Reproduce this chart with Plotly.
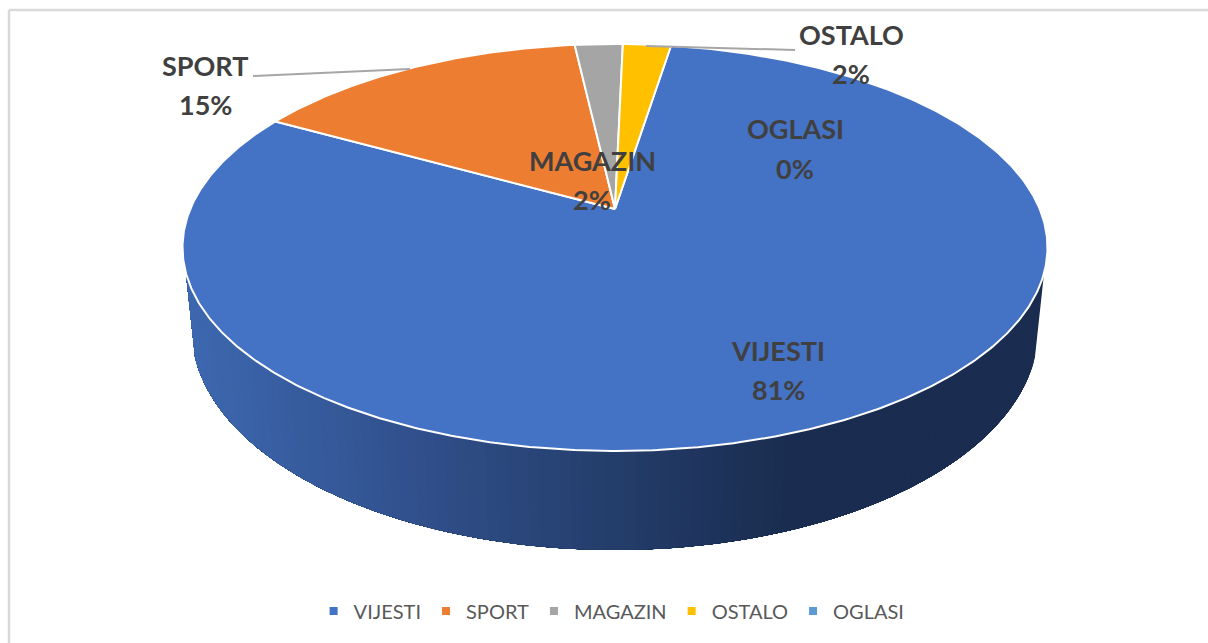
import numpy as np
import plotly.graph_objects as go

# ---- data ----
categories = ["VIJESTI", "SPORT", "MAGAZIN", "OSTALO", "OGLASI"]
shares = [80.6, 15.1, 2.15, 2.15, 0.0]
colors = ["#4472C4", "#ED7D31", "#A5A5A5", "#FFC000", "#5B9BD5"]
first_slice_angle = 9.0  # degrees clockwise from the back of the pie

# ---- perspective of the tilted disc (axis units are pixels) ----
CX, K = 615.0, 0.189
TOP = dict(ax=424.7, by=196.2, y0=209.0)
BOTTOM = dict(ax=415.6, by=212.0, y0=288.6)


def project(theta_deg, face):
    t = np.radians(theta_deg)
    u, v = np.sin(t), np.cos(t)
    d = 1 + K * v
    return CX + face["ax"] * u / d, face["y0"] - face["by"] * v / d


fig = go.Figure()

# side wall: painted from right to left, each strip covering the rest of the wall
shade_x = [190, 450, 600, 790]
shade_rgb = np.array([[61, 104, 176], [47, 77, 135], [37, 63, 110], [26, 45, 80]])
wall_from, wall_to = 90 + 17.9, 270 - 17.9
edges = np.linspace(wall_from, wall_to, 121)
for a0 in edges[:-1]:
    arc = np.linspace(a0, wall_to, max(3, int((wall_to - a0) * 2)))
    xt, yt = project(arc, TOP)
    xb, yb = project(arc, BOTTOM)
    mid = (xt[0] + xb[0]) / 2
    rgb = [int(round(np.interp(mid, shade_x, shade_rgb[:, i]))) for i in range(3)]
    col = f"rgb({rgb[0]},{rgb[1]},{rgb[2]})"
    fig.add_trace(go.Scatter(
        x=np.r_[xt, xb[::-1], xt[0]], y=np.r_[yt, yb[::-1], yt[0]],
        mode="lines", fill="toself", fillcolor=col, line=dict(width=0),
        hoverinfo="skip", showlegend=False))

# top face: one wedge per share, clockwise from the first slice angle
start = first_slice_angle
for name, share, col in zip(categories, shares, colors):
    sweep = share / sum(shares) * 360
    if sweep > 0:
        arc = np.linspace(start, start + sweep, max(3, int(sweep * 2)))
        xa, ya = project(arc, TOP)
        fig.add_trace(go.Scatter(
            x=np.r_[CX, xa, CX], y=np.r_[TOP["y0"], ya, TOP["y0"]],
            mode="lines", fill="toself", fillcolor=col,
            line=dict(color="white", width=2),
            hoverinfo="skip", showlegend=False))
    start += sweep

# legend entries
for name, col in zip(categories, colors):
    fig.add_trace(go.Scatter(
        x=[None], y=[None], mode="markers", name=name,
        marker=dict(symbol="square", size=8, color=col)))

# data labels: name above, share below
label_pos = {
    "VIJESTI": (778, 350, 389),
    "SPORT": (205, 65, 104),
    "MAGAZIN": (592, 160, 199),
    "OSTALO": (851, 34, 73),
    "OGLASI": (795, 128, 168),
}
annotations = []
for name, share in zip(categories, shares):
    x, y1, y2 = label_pos[name]
    for text, y in ((name, y1), (f"{round(share)}%", y2)):
        annotations.append(dict(
            x=x, y=y, xref="x", yref="y", text=f"<b>{text}</b>", showarrow=False,
            xanchor="center", yanchor="middle",
            font=dict(family="Lato", size=27, color="#404040")))

leader = dict(type="line", xref="x", yref="y", line=dict(color="#A6A6A6", width=2))
frame = dict(type="line", xref="x", yref="y", line=dict(color="#D9D9D9", width=2.5))
shapes = [
    dict(leader, x0=253, y0=76, x1=410, y1=69),
    dict(leader, x0=646, y0=46, x1=795, y1=50),
    dict(frame, x0=9, y0=10, x1=1208, y1=10),
    dict(frame, x0=9, y0=10, x1=9, y1=643),
]

fig.update_layout(
    width=1208, height=643, margin=dict(l=0, r=0, t=0, b=0),
    paper_bgcolor="white", plot_bgcolor="white",
    xaxis=dict(range=[0, 1208], visible=False, fixedrange=True),
    yaxis=dict(range=[643, 0], visible=False, fixedrange=True),
    annotations=annotations, shapes=shapes,
    legend=dict(orientation="h", xanchor="center", x=0.5063, yanchor="middle", y=0.0497,
                font=dict(family="Lato", size=20, color="#595959"),
                bgcolor="rgba(0,0,0,0)"),
)
fig.write_html("out.html", config={"displayModeBar": False},
               post_script="document.body.style.margin='0';document.body.style.overflow='hidden';")
